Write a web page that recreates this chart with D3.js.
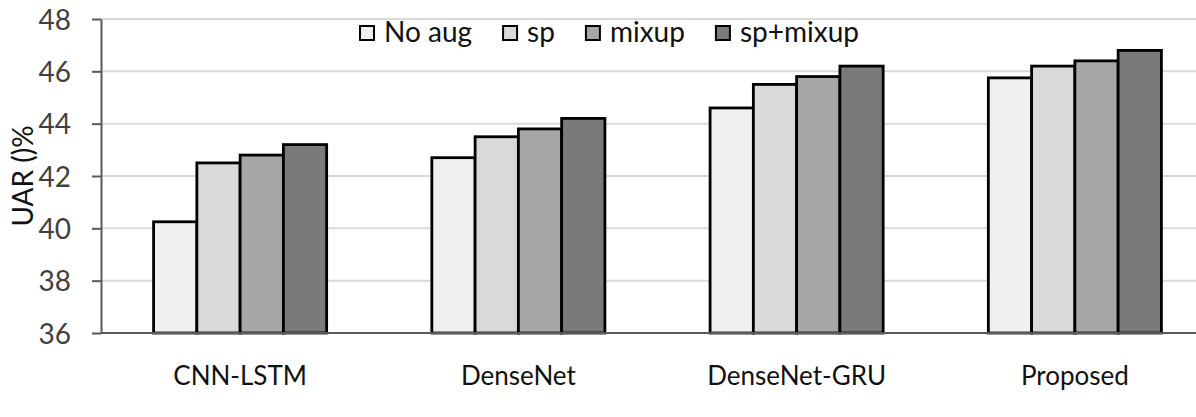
<!DOCTYPE html>
<html>
<head>
<meta charset="utf-8">
<script src="https://cdn.jsdelivr.net/npm/d3@7"></script>
<style>
  body { margin: 0; background: #fff; }
  svg { display: block; font-family: Lato, "Open Sans", sans-serif; }
</style>
</head>
<body>
<div id="chart"></div>
<script>
// data
var categories = ["CNN-LSTM", "DenseNet", "DenseNet-GRU", "Proposed"];
var seriesNames = ["No aug", "sp", "mixup", "sp+mixup"];
var noAug   = [40.25, 42.7, 44.6, 45.75];
var sp      = [42.5, 43.5, 45.5, 46.2];
var mixup   = [42.8, 43.8, 45.8, 46.4];
var spMixup = [43.2, 44.2, 46.2, 46.8];
var yTicks  = [36, 38, 40, 42, 44, 46, 48];
var colors  = ["#f0f0f0", "#d9d9d9", "#a6a6a6", "#7a7a7a"];

var seriesValues = [noAug, sp, mixup, spMixup];

var svgWidth = 1196;
var svgHeight = 417;
var plotLeft = 101, plotTop = 19, plotBottom = 333;

var svg = d3.select("#chart").append("svg")
    .attr("width", svgWidth)
    .attr("height", svgHeight);

// scales
var x0 = d3.scaleBand().domain(categories).range([plotLeft, 1214]).padding(0);
var step = x0.bandwidth();
var x1 = d3.scaleBand().domain(seriesNames)
    .range([step * 0.189, step * 0.811]).padding(0);
var y = d3.scaleLinear().domain([36, 48]).range([plotBottom, plotTop]);

// gridlines
svg.append("g").selectAll("line")
    .data(yTicks.slice(1))
    .enter().append("line")
    .attr("x1", plotLeft).attr("x2", svgWidth)
    .attr("y1", d => y(d)).attr("y2", d => y(d))
    .attr("stroke", "#d9d9d9")
    .attr("stroke-width", 2);

// bars
var rows = [];
categories.forEach(function(c, i) {
    seriesNames.forEach(function(s, j) {
        rows.push({ cat: c, name: s, value: seriesValues[j][i], color: colors[j] });
    });
});

svg.append("g").selectAll("rect")
    .data(rows)
    .enter().append("rect")
    .attr("x", d => x0(d.cat) + x1(d.name))
    .attr("y", d => y(d.value))
    .attr("width", x1.bandwidth())
    .attr("height", d => y(36) - y(d.value))
    .attr("fill", d => d.color)
    .attr("stroke", "#000")
    .attr("stroke-width", 2.8);

// bottom axis line + category labels
var xAxis = svg.append("g")
    .attr("transform", `translate(0, ${plotBottom})`)
    .call(d3.axisBottom(x0).tickSize(0).tickSizeOuter(0));
xAxis.select(".domain").attr("d", `M${plotLeft},0H${svgWidth}`)
    .attr("stroke", "#595959").attr("stroke-width", 2);
xAxis.selectAll("text")
    .attr("y", 52).attr("dy", 0)
    .style("font-size", "26px")
    .style("font-family", "Lato, sans-serif")
    .attr("fill", "#111");

// left axis
var yAxis = svg.append("g")
    .attr("transform", `translate(${plotLeft}, 0)`)
    .call(d3.axisLeft(y).tickValues(yTicks).tickSize(9).tickSizeOuter(0).tickPadding(21));
yAxis.select(".domain").attr("stroke", "#595959").attr("stroke-width", 2);
yAxis.selectAll(".tick line").attr("stroke", "#595959").attr("stroke-width", 2);
yAxis.selectAll("text")
    .attr("dy", "0.36em")
    .style("font-size", "28px")
    .style("font-family", "Lato, sans-serif")
    .attr("fill", "#404040");

// y axis title
svg.append("text")
    .attr("transform", `translate(33, ${(plotTop + plotBottom) / 2}) rotate(-90)`)
    .attr("text-anchor", "middle")
    .style("font-size", "28px")
    .attr("fill", "#111")
    .text("UAR ()%");

// legend
var legend = svg.append("g");
var lx = 360;
seriesNames.forEach(function(name, j) {
    legend.append("rect")
        .attr("x", lx).attr("y", 26)
        .attr("width", 14).attr("height", 14)
        .attr("fill", colors[j])
        .attr("stroke", "#000")
        .attr("stroke-width", 2);
    var t = legend.append("text")
        .attr("x", lx + 24).attr("y", 42)
        .style("font-size", "28px")
        .attr("fill", "#111")
        .text(name);
    lx += 24 + t.node().getComputedTextLength() + 31;
});
</script>
</body>
</html>
